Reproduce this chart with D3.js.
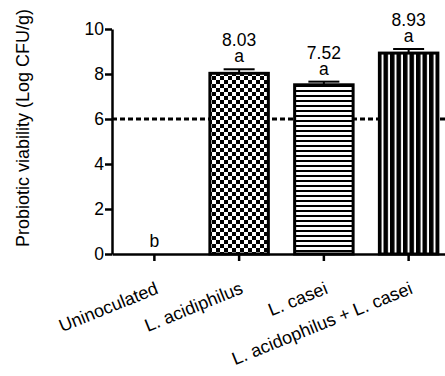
<!DOCTYPE html>
<html>
<head>
<meta charset="utf-8">
<script src="https://cdn.jsdelivr.net/npm/d3@7"></script>
<style>
  body { margin: 0; background: #fff; }
  text { font-family: "Liberation Sans", Arial, sans-serif; }
</style>
</head>
<body>
<div id="plot"></div>
<script>
// data
var categories = ["Uninoculated", "L. acidiphilus", "L. casei", "L. acidophilus + L. casei"];
var means = [0, 8.03, 7.52, 8.93];
var errors = [0, 0.18, 0.14, 0.18];
var valueLabels = ["", "8.03", "7.52", "8.93"];
var letters = ["b", "a", "a", "a"];
var fills = ["none", "url(#checker)", "url(#hlines)", "url(#vlines)"];
var yTicks = [0, 2, 4, 6, 8, 10];
var threshold = 6;

var width = 445, height = 376;
var margin = { top: 29, bottom: 122, left: 112 };

var svg = d3.select("#plot").append("svg")
    .attr("width", width)
    .attr("height", height);

// fill patterns
var defs = svg.append("defs");

var checker = defs.append("pattern")
    .attr("id", "checker")
    .attr("patternUnits", "userSpaceOnUse")
    .attr("width", 8).attr("height", 8);
checker.append("rect").attr("width", 8).attr("height", 8).attr("fill", "#fff");
checker.append("rect").attr("width", 4).attr("height", 4).attr("fill", "#000");
checker.append("rect").attr("x", 4).attr("y", 4).attr("width", 4).attr("height", 4).attr("fill", "#000");

var hlines = defs.append("pattern")
    .attr("id", "hlines")
    .attr("patternUnits", "userSpaceOnUse")
    .attr("width", 5).attr("height", 5);
hlines.append("rect").attr("width", 5).attr("height", 5).attr("fill", "#fff");
hlines.append("rect").attr("width", 5).attr("height", 2).attr("fill", "#000");

var vlines = defs.append("pattern")
    .attr("id", "vlines")
    .attr("patternUnits", "userSpaceOnUse")
    .attr("width", 6.5).attr("height", 6.5);
vlines.append("rect").attr("width", 6.5).attr("height", 6.5).attr("fill", "#fff");
vlines.append("rect").attr("width", 4.5).attr("height", 6.5).attr("fill", "#000");

//Scales
var xScale = d3.scaleBand()
    .domain(categories)
    .range([margin.left, 451])
    .padding(0);

var yScale = d3.scaleLinear()
    .domain([0, 10])
    .range([height - margin.bottom, margin.top]);

var barWidth = xScale.bandwidth() * 0.69;

function cx(d) { return xScale(d) + xScale.bandwidth() / 2; }

//Dashed threshold line (behind the bars)
svg.append("line")
    .attr("x1", margin.left).attr("x2", width)
    .attr("y1", yScale(threshold)).attr("y2", yScale(threshold))
    .attr("stroke", "#000")
    .attr("stroke-width", 3)
    .attr("stroke-dasharray", "5,3");

//Bars
var bars = svg.append("g");
bars.selectAll("rect")
    .data(categories)
    .enter().append("rect")
    .attr("x", function (d) { return cx(d) - barWidth / 2; })
    .attr("y", function (d, i) { return yScale(means[i]); })
    .attr("width", barWidth)
    .attr("height", function (d, i) { return yScale(0) - yScale(means[i]); })
    .attr("fill", function (d, i) { return fills[i]; })
    .attr("stroke", function (d, i) { return means[i] > 0 ? "#000" : "#999"; })
    .attr("stroke-width", function (d, i) { return means[i] > 0 ? 3 : 1; });

//Error bars (upper only)
var err = svg.append("g").attr("stroke", "#000").attr("stroke-width", 2);
categories.forEach(function (d, i) {
    if (means[i] <= 0) return;
    err.append("line")
        .attr("x1", cx(d)).attr("x2", cx(d))
        .attr("y1", yScale(means[i])).attr("y2", yScale(means[i] + errors[i]));
    err.append("line")
        .attr("x1", cx(d) - 15.5).attr("x2", cx(d) + 15.5)
        .attr("y1", yScale(means[i] + errors[i])).attr("y2", yScale(means[i] + errors[i]));
});

//Axes
var yAxis = d3.axisLeft(yScale).tickValues(yTicks).tickSize(7).tickSizeOuter(0);
var xAxis = d3.axisBottom(xScale).tickSize(7).tickSizeOuter(0).tickFormat("");

var gy = svg.append("g")
    .attr("transform", "translate(" + margin.left + ",0)")
    .call(yAxis);
var gx = svg.append("g")
    .attr("transform", "translate(0," + yScale(0) + ")")
    .call(xAxis);

svg.selectAll(".domain").attr("stroke-width", 2.5);
svg.selectAll(".tick line").attr("stroke-width", 2.5);
gy.selectAll(".tick text")
    .attr("x", -8)
    .style("font-size", "17.5px")
    .style("font-family", "'Liberation Sans', Arial, sans-serif")
    .attr("fill", "#000");

//Rotated category labels
svg.append("g").selectAll("text")
    .data(categories)
    .enter().append("text")
    .attr("x", function (d) { return cx(d) + 5; })
    .attr("y", 293)
    .attr("transform", function (d) { return "rotate(-22," + (cx(d) + 5) + ",293)"; })
    .attr("text-anchor", "end")
    .style("font-size", "18px")
    .text(function (d) { return d; });

//Value and letter labels
var labels = svg.append("g").attr("text-anchor", "middle").style("font-size", "17.5px");
categories.forEach(function (d, i) {
    var top = yScale(means[i] + errors[i]);
    labels.append("text")
        .attr("x", cx(d)).attr("y", top - 7)
        .text(letters[i]);
    if (valueLabels[i]) {
        labels.append("text")
            .attr("x", cx(d)).attr("y", top - 23)
            .text(valueLabels[i]);
    }
});

//Y axis label
svg.append("text")
    .attr("transform", "translate(29,128) rotate(-90)")
    .attr("text-anchor", "middle")
    .style("font-size", "18px")
    .text("Probiotic viability (Log CFU/g)");
</script>
</body>
</html>
